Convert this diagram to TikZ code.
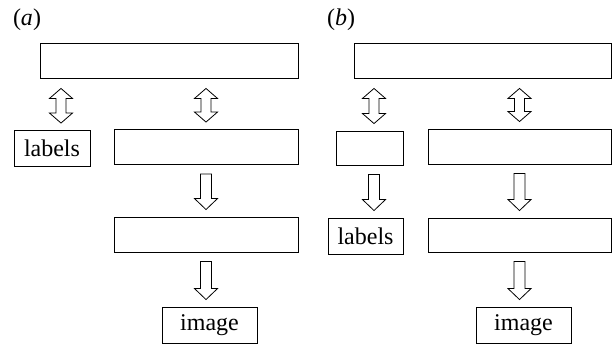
\documentclass[tikz,border=0pt]{standalone}
\usepackage{fontspec}
\setmainfont{Liberation Serif}
\usetikzlibrary{calc}

\tikzset{
  box/.style={draw, line width=0.9pt, inner sep=0pt, font=\fontsize{24}{28}\selectfont},
  % outlined block arrows, drawn straight down from the start point
  blockdown/.style={line width=0.8pt, to path={
    let \p1=(\tikztostart), \p2=(\tikztotarget) in
    (\x1-5.5pt,\y1-9pt) -- (\x1+5.5pt,\y1-9pt) -- (\x1+5.5pt,\y2+18pt)
    -- (\x1+11.5pt,\y2+18pt) -- (\x1,\y2+7pt) -- (\x1-11.5pt,\y2+18pt)
    -- (\x1-5.5pt,\y2+18pt) -- cycle}},
  blockboth/.style={line width=0.8pt, to path={
    let \p1=(\tikztostart), \p2=(\tikztotarget) in
    (\x1,\y1-10pt) -- (\x1+11.5pt,\y1-20pt) -- (\x1+5pt,\y1-20pt)
    -- (\x1+5pt,\y2+17pt) -- (\x1+11.5pt,\y2+17pt) -- (\x1,\y2+7pt)
    -- (\x1-11.5pt,\y2+17pt) -- (\x1-5pt,\y2+17pt) -- (\x1-5pt,\y1-20pt)
    -- (\x1-11.5pt,\y1-20pt) -- cycle}}
}

\begin{document}
\begin{tikzpicture}[x=1pt, y=-1pt]
\useasboundingbox (0,0) rectangle (612,345);

% (a)
\node[font=\fontsize{24}{28}\selectfont] (taga) at (27,20) {(\textit{a})};
\node[box, minimum width=258pt, minimum height=35pt] (topa) at (169,60.5) {};
\node[box, minimum width=76pt, minimum height=36pt] (laba) at (52,148.5) {labels};
\node[box, minimum width=184pt, minimum height=35pt] (mida) at (206,147) {};
\node[box, minimum width=184pt, minimum height=35pt] (lowa) at (206,234.5) {};
\node[box, minimum width=95pt, minimum height=36pt] (imga) at (209.5,325) {image};

\draw[blockboth] (topa.south -| 61,0) to (laba.north -| 61,0);
\draw[blockboth] (topa.south -| mida.north) to (mida.north);
\draw[blockdown] (mida.south) to (lowa.north);
\draw[blockdown] (lowa.south) to (lowa.south |- imga.north);

% (b)
\node[font=\fontsize{24}{28}\selectfont] (tagb) at (341,20) {(\textit{b})};
\node[box, minimum width=257pt, minimum height=35pt] (topb) at (482.5,60.5) {};
\node[box, minimum width=67pt, minimum height=34pt] (smlb) at (369.5,148) {};
\node[box, minimum width=183pt, minimum height=35pt] (midb) at (519.5,146.5) {};
\node[box, minimum width=75pt, minimum height=36pt] (labb) at (365.5,236) {labels};
\node[box, minimum width=183pt, minimum height=34pt] (lowb) at (519.5,235) {};
\node[box, minimum width=95pt, minimum height=36pt] (imgb) at (523.5,325) {image};

\draw[blockboth] (topb.south -| 374,0) to (smlb.north -| 374,0);
\draw[blockboth] (topb.south -| midb.north) to (midb.north);
\draw[blockdown] (smlb.south -| 374,0) to (labb.north -| 374,0);
\draw[blockdown] (midb.south) to (lowb.north);
\draw[blockdown] (lowb.south) to (lowb.south |- imgb.north);
\end{tikzpicture}
\end{document}
